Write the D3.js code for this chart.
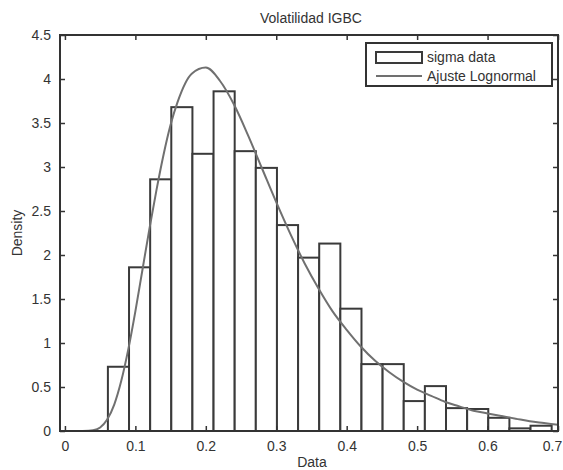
<!DOCTYPE html>
<html>
<head>
<meta charset="utf-8">
<script src="https://cdn.jsdelivr.net/npm/d3@7"></script>
<style>
  body { margin: 0; background: #fff; }
  text { font-family: "Liberation Sans", Arial, sans-serif; fill: #333; }
</style>
</head>
<body>
<svg width="563" height="470"></svg>
<script>
// histogram bins (left edge) and densities
const binLeft = [0.061, 0.091, 0.121, 0.151, 0.181, 0.211, 0.241, 0.271, 0.301, 0.331, 0.361,
  0.391, 0.421, 0.451, 0.481, 0.511, 0.541, 0.571, 0.601, 0.631, 0.661];
const binWidth = 0.030;
const density = [0.73, 1.86, 2.86, 3.68, 3.15, 3.86, 3.18, 2.99, 2.34, 1.97, 2.13,
  1.39, 0.76, 0.76, 0.34, 0.51, 0.26, 0.25, 0.15, 0.03, 0.06];

// lognormal fit
const fitX = [0.025, 0.04, 0.05, 0.06, 0.07, 0.08, 0.09, 0.10, 0.11, 0.12, 0.13, 0.14, 0.15, 0.16,
  0.18, 0.20, 0.22, 0.24, 0.26, 0.28, 0.30, 0.32, 0.34, 0.36, 0.38, 0.40, 0.42, 0.44, 0.46,
  0.48, 0.50, 0.52, 0.54, 0.56, 0.58, 0.60, 0.62, 0.64, 0.66, 0.68, 0.70];
const fitY = [0.0, 0.01, 0.04, 0.13, 0.30, 0.57, 0.93, 1.36, 1.83, 2.30, 2.74, 3.14, 3.48, 3.74,
  4.06, 4.13, 3.98, 3.71, 3.36, 2.98, 2.60, 2.24, 1.91, 1.62, 1.36, 1.15, 0.96, 0.80, 0.67,
  0.56, 0.47, 0.40, 0.33, 0.28, 0.23, 0.20, 0.17, 0.14, 0.11, 0.09, 0.07];

const xTicks = [0, 0.1, 0.2, 0.3, 0.4, 0.5, 0.6, 0.7];
const yTicks = [0, 0.5, 1, 1.5, 2, 2.5, 3, 3.5, 4, 4.5];

const svg = d3.select("svg");
const plotLeft = 60, plotRight = 558, plotTop = 35, plotBottom = 431;

const x = d3.scaleLinear().domain([-0.007, 0.7]).range([plotLeft, plotRight]);
const y = d3.scaleLinear().domain([0, 4.5]).range([plotBottom, plotTop]);

svg.append("rect").attr("width", 563).attr("height", 470).attr("fill", "#fff");

svg.append("clipPath").attr("id", "plot")
  .append("rect")
  .attr("x", plotLeft).attr("y", plotTop)
  .attr("width", plotRight - plotLeft).attr("height", plotBottom - plotTop);

const plot = svg.append("g").attr("clip-path", "url(#plot)");

plot.selectAll(".bar")
  .data(density)
  .enter()
  .append("rect")
  .attr("class", "bar")
  .attr("x", (d, i) => x(binLeft[i]))
  .attr("width", (d, i) => x(binLeft[i] + binWidth) - x(binLeft[i]))
  .attr("y", (d) => y(d))
  .attr("height", (d) => y(0) - y(d))
  .attr("fill", "#fff")
  .attr("stroke", "#3a3a3a")
  .attr("stroke-width", 2);

const line = d3.line()
  .x((d, i) => x(fitX[i]))
  .y((d) => y(d))
  .curve(d3.curveMonotoneX);

plot.append("path")
  .attr("d", line(fitY))
  .attr("fill", "none")
  .attr("stroke", "#707070")
  .attr("stroke-width", 2);

// axes, MATLAB style: box with inward ticks
const xAxis = d3.axisBottom(x).tickValues(xTicks).tickSizeInner(-5).tickSizeOuter(0)
  .tickFormat(d3.format("~g")).tickPadding(10);
const yAxis = d3.axisLeft(y).tickValues(yTicks).tickSizeInner(-5).tickSizeOuter(0)
  .tickFormat(d3.format("~g")).tickPadding(9);

const gx = svg.append("g").attr("transform", `translate(0,${plotBottom})`).call(xAxis);
const gy = svg.append("g").attr("transform", `translate(${plotLeft},0)`).call(yAxis);
const gxTop = svg.append("g").attr("transform", `translate(0,${plotTop})`)
  .call(d3.axisTop(x).tickValues(xTicks).tickSizeInner(-5).tickSizeOuter(0).tickFormat(""));
const gyRight = svg.append("g").attr("transform", `translate(${plotRight},0)`)
  .call(d3.axisRight(y).tickValues(yTicks).tickSizeInner(-5).tickSizeOuter(0).tickFormat(""));

[gx, gy, gxTop, gyRight].forEach((g) => {
  g.select(".domain").remove();
  g.selectAll(".tick line").attr("stroke", "#333").attr("stroke-width", 1.5);
  g.selectAll(".tick text").attr("font-size", 14).attr("fill", "#333")
    .attr("font-family", "Liberation Sans, Arial, sans-serif");
});

// last x label sits at the window edge, keep it inside
gx.selectAll(".tick text").filter((d) => d === 0.7).attr("dx", -6);

svg.append("rect")
  .attr("x", plotLeft).attr("y", plotTop)
  .attr("width", plotRight - plotLeft).attr("height", plotBottom - plotTop)
  .attr("fill", "none")
  .attr("stroke", "#333")
  .attr("stroke-width", 2);

// labels
svg.append("text").attr("x", 311).attr("y", 23).attr("text-anchor", "middle")
  .attr("font-size", 14).text("Volatilidad IGBC");
svg.append("text").attr("x", 312).attr("y", 467).attr("text-anchor", "middle")
  .attr("font-size", 14).text("Data");
svg.append("text").attr("transform", "translate(22,233) rotate(-90)")
  .attr("text-anchor", "middle").attr("font-size", 14).text("Density");

// legend
const legend = svg.append("g");
legend.append("rect")
  .attr("x", 366).attr("y", 43).attr("width", 186).attr("height", 43)
  .attr("fill", "#fff").attr("stroke", "#333").attr("stroke-width", 2);
legend.append("rect")
  .attr("x", 376).attr("y", 52).attr("width", 46).attr("height", 11)
  .attr("fill", "#fff").attr("stroke", "#3a3a3a").attr("stroke-width", 2);
legend.append("line")
  .attr("x1", 376).attr("x2", 422).attr("y1", 76).attr("y2", 76)
  .attr("stroke", "#707070").attr("stroke-width", 2);
legend.append("text").attr("x", 427).attr("y", 62).attr("font-size", 14).text("sigma data");
legend.append("text").attr("x", 427).attr("y", 81).attr("font-size", 14).text("Ajuste Lognormal");
</script>
</body>
</html>
